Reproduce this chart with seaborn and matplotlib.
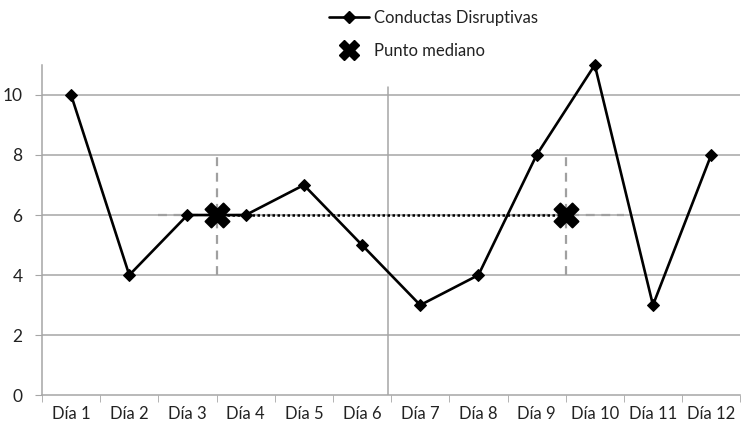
import numpy as np
import pandas as pd
import matplotlib
matplotlib.use("Agg")
import matplotlib.pyplot as plt
from matplotlib.lines import Line2D
import seaborn as sns

# ---- data ----
dias = ["Día 1", "Día 2", "Día 3", "Día 4", "Día 5", "Día 6",
        "Día 7", "Día 8", "Día 9", "Día 10", "Día 11", "Día 12"]
conductas = [10, 4, 6, 6, 7, 5, 3, 4, 8, 11, 3, 8]
fase = ["A", "A", "A", "A", "A", "A", "B", "B", "B", "B", "B", "B"]
y_ticks = [0, 2, 4, 6, 8, 10]

sns.set_style("white")
plt.rcParams["font.family"] = ["Lato", "DejaVu Sans"]

df = pd.DataFrame({"dia": dias, "pos": np.arange(len(dias)),
                   "conductas": conductas, "fase": fase})

# median points per phase
med = df.groupby("fase").agg(pos=("pos", "median"),
                              valor=("conductas", "median")).reset_index()

fig = plt.figure(figsize=(7.5, 4.3), dpi=100)
ax = fig.add_axes([0.056, 0.081, 0.931, 0.768])

grid_c = "#a6a6a6"
ax.set_ylim(0, 11)
ax.set_xlim(-0.5, len(dias) - 0.5)
ax.set_yticks(y_ticks)
for v in y_ticks[1:]:
    ax.axhline(v, color=grid_c, lw=1.1, zorder=0)

# phase divider
div = (df[df.fase == "A"].pos.max() + df[df.fase == "B"].pos.min()) / 2
ax.plot([div - 0.05, div - 0.05], [0, 10.25], color=grid_c, lw=1.1, zorder=0)

# dashed guides around medians
for _, r in med.iterrows():
    ax.plot([r.pos, r.pos], [r.valor - 2, r.valor + 1.95], color="#a0a0a0",
            lw=1.6, ls=(0, (4, 3)), zorder=1)
    ax.plot([r.pos - 1, r.pos + 1], [r.valor, r.valor], color="#a0a0a0",
            lw=1.6, ls=(0, (4, 3)), zorder=1)
# dotted connecting line between medians
ax.plot(med.pos, med.valor, color="black", lw=1.8, ls=(0, (1, 1)), zorder=2)

sns.lineplot(data=df, x="pos", y="conductas", ax=ax, color="black", lw=1.9,
             marker="D", markersize=6, markeredgecolor="black", zorder=3,
             legend=False, clip_on=False)
sns.scatterplot(data=med, x="pos", y="valor", ax=ax, marker="X", s=300,
                color="black", edgecolor="black", zorder=4, legend=False)

ax.set_xticks(df.pos)
ax.set_xticklabels(dias)
ax.set_xticks(np.arange(-0.5, len(dias), 1), minor=True)
ax.tick_params(axis="x", which="major", length=0, labelsize=12,
               colors="#222222", pad=8)
ax.tick_params(axis="x", which="minor", length=5, color=grid_c,
               direction="out", bottom=True)
ax.tick_params(axis="y", length=5, color=grid_c, labelsize=12.5,
               labelcolor="#222222", left=True, pad=9)
ax.set_xlabel("")
ax.set_ylabel("")
for s in ["top", "right"]:
    ax.spines[s].set_visible(False)
for s in ["left", "bottom"]:
    ax.spines[s].set_color(grid_c)
    ax.spines[s].set_linewidth(1.1)

handles = [Line2D([], [], color="black", lw=1.9, marker="D", markersize=6),
           Line2D([], [], color="black", lw=0, marker="X", markersize=15)]
fig.legend(handles, ["Conductas Disruptivas", "Punto mediano"],
           loc="upper center", bbox_to_anchor=(0.578, 1.012), frameon=False,
           fontsize=12, labelspacing=1.0, handlelength=2.4,
           handletextpad=0.25, labelcolor="#222222")

fig.savefig("out.png", dpi=100)
